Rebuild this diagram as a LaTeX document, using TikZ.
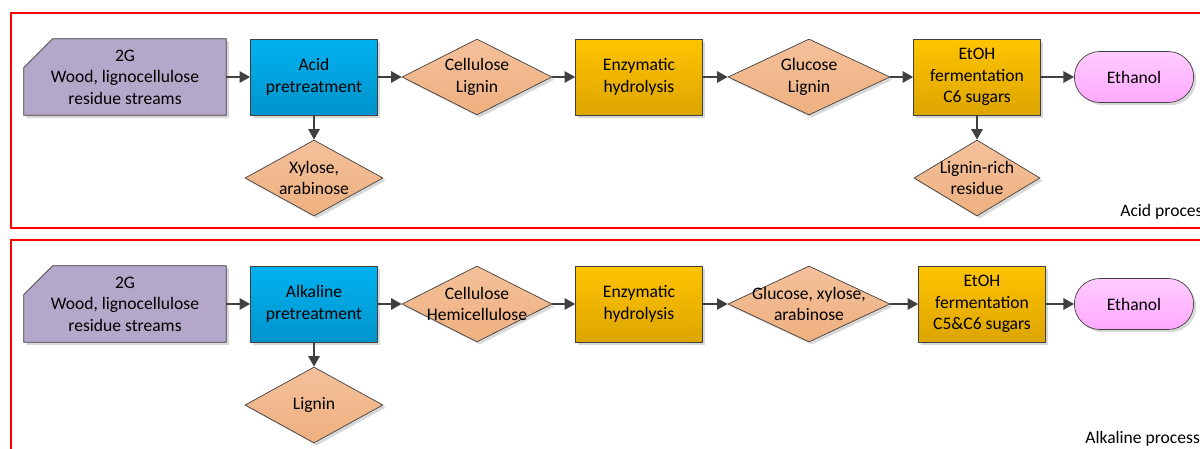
\documentclass[tikz,border=0pt]{standalone}
\usepackage{fontspec}
\setmainfont{Carlito}
\usetikzlibrary{arrows.meta,shapes.geometric,shapes.misc,shadows,backgrounds}
\definecolor{feedpurple}{HTML}{B3A7CA}
\definecolor{pretblue}{HTML}{00B2F0}
\definecolor{pretbluedk}{HTML}{0094CC}
\definecolor{procgold}{HTML}{FFC400}
\definecolor{procgolddk}{HTML}{DDA500}
\definecolor{peachlt}{HTML}{F4C09A}
\definecolor{peachdk}{HTML}{EEB080}
\definecolor{ethpink}{HTML}{FFCCFF}
\definecolor{ethpinkdk}{HTML}{FFA8FF}
\definecolor{edgegray}{HTML}{404040}
\definecolor{framered}{HTML}{FF0000}

\begin{document}
\begin{tikzpicture}[
  x=0.02cm, y=-0.02cm,
  every node/.style={font=\fontsize{10}{12.2}\selectfont},
  shadowed/.style={drop shadow={fill=black!30, opacity=0.5, shadow xshift=1.5pt, shadow yshift=-1.5pt}},
  feed/.style={rectangle, minimum width=4.04cm, minimum height=1.52cm,
    inner sep=0pt, align=center},
  feedshape/.style={draw=edgegray, fill=feedpurple, shadowed},
  proc/.style={rectangle, draw=edgegray, top color=procgold, bottom color=procgolddk,
    minimum width=2.54cm, minimum height=1.52cm, inner sep=2pt, align=center, shadowed},
  pret/.style={proc, top color=pretblue, bottom color=pretbluedk},
  dia/.style={diamond, draw=edgegray, top color=peachlt, bottom color=peachdk,
    minimum width=3cm, minimum height=1.52cm, inner sep=0pt, shadowed},
  prod/.style={rounded rectangle, draw=edgegray, top color=ethpink, bottom color=ethpinkdk,
    minimum width=2.62cm, minimum height=1.02cm, shadowed},
  flow/.style={-{Triangle[length=6pt,width=6.5pt]}, draw=edgegray, line width=0.9pt},
  panel/.style={draw=framered, line width=1.2pt},
]
  \useasboundingbox (0,0) rectangle (1200,449);
  \clip (0,0) rectangle (1200,449);

  %% Panel frames
  \draw[panel] (11,13) rectangle (1220,228);
  \draw[panel] (11,240) rectangle (1220,480);

  %% Row 1: acid process
  \node[feed] (src1) at (125,77) {2G\\Wood, lignocellulose\\residue streams};
  \node[pret] (pre1) at (314,77) {Acid\\pretreatment};
  \node[dia, label={[align=center]center:{Cellulose\\Lignin}}] (mix1) at (477,77) {};
  \node[proc] (enz1) at (639,77) {Enzymatic\\hydrolysis};
  \node[dia, minimum width=3.24cm, label={[align=center]center:{Glucose\\Lignin}}] (sug1) at (809,77) {};
  \node[proc] (ferm1) at (977,77) {EtOH\\fermentation\\C6 sugars};
  \node[prod] (eth1) at (1134,77) {Ethanol};
  \node[dia, minimum width=2.76cm, label={[align=center]center:{Xylose,\\arabinose}}] (side1) at (314,178) {};
  \node[dia, minimum width=2.52cm, label={[align=center]center:{Lignin-rich\\residue}}] (res1) at (977,178) {};
  \node[anchor=base west, inner sep=0pt] (lab1) at (1120,216) {Acid process};

  \draw[flow] (src1) -- (pre1);
  \draw[flow] (pre1) -- (mix1);
  \draw[flow] (mix1) -- (enz1);
  \draw[flow] (enz1) -- (sug1);
  \draw[flow] (sug1) -- (ferm1);
  \draw[flow] (ferm1) -- (eth1);
  \draw[flow] (pre1) -- (side1);
  \draw[flow] (ferm1) -- (res1);

  %% Row 2: alkaline process
  \node[feed] (src2) at (125,304) {2G\\Wood, lignocellulose\\residue streams};
  \node[pret] (pre2) at (314,304) {Alkaline\\pretreatment};
  \node[dia, label={[align=center]center:{Cellulose\\Hemicellulose}}] (mix2) at (477,304) {};
  \node[proc] (enz2) at (639,304) {Enzymatic\\hydrolysis};
  \node[dia, minimum width=3.24cm, label={[align=center]center:{Glucose, xylose,\\arabinose}}] (sug2) at (809,304) {};
  \node[proc] (ferm2) at (982,304) {EtOH\\fermentation\\C5\&C6 sugars};
  \node[prod] (eth2) at (1134,304) {Ethanol};
  \node[dia, minimum width=2.76cm, label={[align=center]center:{Lignin}}] (side2) at (314,405) {};
  \node[anchor=base west, inner sep=0pt] (lab2) at (1085,443) {Alkaline process};

  \draw[flow] (src2) -- (pre2);
  \draw[flow] (pre2) -- (mix2);
  \draw[flow] (mix2) -- (enz2);
  \draw[flow] (enz2) -- (sug2);
  \draw[flow] (sug2) -- (ferm2);
  \draw[flow] (ferm2) -- (eth2);
  \draw[flow] (pre2) -- (side2);

  %% Feedstock outlines with cut corner, behind the text
  \begin{scope}[on background layer]
    \foreach \src in {src1,src2}
      \draw[feedshape] ([xshift=0.58cm]\src.north west) -- (\src.north east)
        -- (\src.south east) -- (\src.south west)
        -- ([yshift=-0.58cm]\src.north west) -- cycle;
  \end{scope}
\end{tikzpicture}
\end{document}
